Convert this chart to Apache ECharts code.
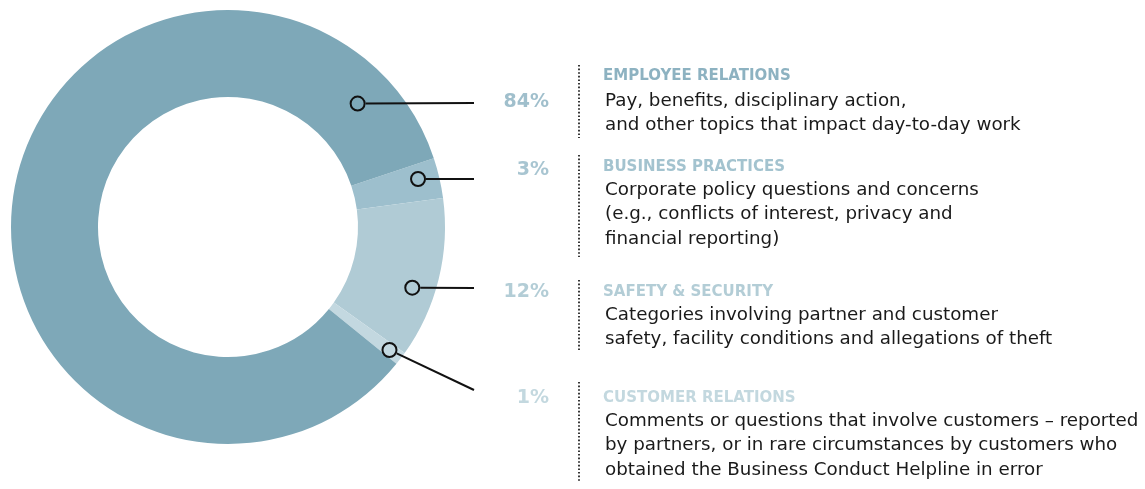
<!DOCTYPE html>
<html><head><meta charset="utf-8">
<script src="https://cdn.jsdelivr.net/npm/echarts@6/dist/echarts.min.js"></script>
<style>html,body{margin:0;padding:0;background:#fff}#c{width:1145px;height:489px}</style>
</head><body><div id="c"></div>
<script>
// ---- data ----
const categories = ['BUSINESS PRACTICES', 'SAFETY & SECURITY', 'CUSTOMER RELATIONS', 'EMPLOYEE RELATIONS'];
const values = [3, 12, 1, 84];
const percentLabels = ['3%', '12%', '1%', '84%'];
const descriptions = [
  'Corporate policy questions and concerns\n(e.g., conflicts of interest, privacy and\nfinancial reporting)',
  'Categories involving partner and customer\nsafety, facility conditions and allegations of theft',
  'Comments or questions that involve customers – reported\nby partners, or in rare circumstances by customers who\nobtained the Business Conduct Helpline in error',
  'Pay, benefits, disciplinary action,\nand other topics that impact day-to-day work'
];
// ---- styles / layout ----
const sliceColors = ['#9dbfcd', '#b0cbd5', '#c3d8e0', '#7ea8b8'];
const headColors = ['#a3c3cf', '#b3cdd6', '#c3d8df', '#8db2c1'];
const pctColors = ['#a8c5d1', '#b3cdd6', '#c3d8df', '#a0bfcc'];
const center = [228, 227];
const startAngle = 18.5;
const ann = [
  {frac: 0.4, r: 196, pctY: 170, head: 167, bodyY: 190, dots: [155, 257], endY: 179},
  {frac: 0.6, r: 194, pctY: 292, head: 292, bodyY: 315, dots: [280, 352], endY: 288},
  {frac: 0.5, r: 203, pctY: 398, head: 398, bodyY: 421, dots: [382, 482], endY: 390},
  {frac: 0.917, r: 179, pctY: 102, head: 76, bodyY: 101, dots: [65, 138], endY: 103}
];
const FONT = '"DejaVu Sans", "Liberation Sans", sans-serif';

const total = values.reduce((a, b) => a + b, 0);
const graphics = [];
let acc = startAngle;
values.forEach((v, i) => {
  const span = v / total * 360;
  const a = ann[i];
  const ang = (acc - span * a.frac) * Math.PI / 180;
  acc -= span;
  const mx = center[0] + a.r * Math.cos(ang);
  const my = center[1] - a.r * Math.sin(ang);
  const d = Math.hypot(474 - mx, a.endY - my);
  graphics.push({type: 'line', z: 10, shape: {x1: mx + 8 * (474 - mx) / d, y1: my + 8 * (a.endY - my) / d, x2: 474, y2: a.endY}, style: {stroke: '#111', lineWidth: 2}});
  graphics.push({type: 'circle', z: 10, shape: {cx: mx, cy: my, r: 7}, style: {fill: 'transparent', stroke: '#111', lineWidth: 2}});
  graphics.push({type: 'line', shape: {x1: 579, y1: a.dots[0], x2: 579, y2: a.dots[1]}, style: {stroke: '#222', lineWidth: 1.8, lineDash: [1.6, 2.0]}});
  graphics.push({type: 'text', style: {text: percentLabels[i], x: 549, y: a.pctY, align: 'right', verticalAlign: 'middle', font: 'bold 19px ' + FONT, fill: pctColors[i]}});
  graphics.push({type: 'text', style: {text: categories[i], x: 603, y: a.head, align: 'left', verticalAlign: 'middle', font: 'bold 15px ' + FONT, fill: headColors[i]}});
  graphics.push({type: 'text', style: {text: descriptions[i], x: 605, y: a.bodyY - 12.25, align: 'left', verticalAlign: 'top', lineHeight: 24.5, font: '18.3px ' + FONT, fill: '#1a1a1a'}});
});

const chart = echarts.init(document.getElementById('c'));
chart.setOption({
  animation: false,
  series: [{
    type: 'pie',
    center: center,
    radius: [130, 217],
    startAngle: startAngle,
    clockwise: true,
    avoidLabelOverlap: false,
    label: {show: false},
    labelLine: {show: false},
    itemStyle: {borderWidth: 0},
    emphasis: {disabled: true},
    data: categories.map((c, i) => ({name: c, value: values[i], itemStyle: {color: sliceColors[i]}}))
  }],
  graphic: graphics
});
</script></body></html>
